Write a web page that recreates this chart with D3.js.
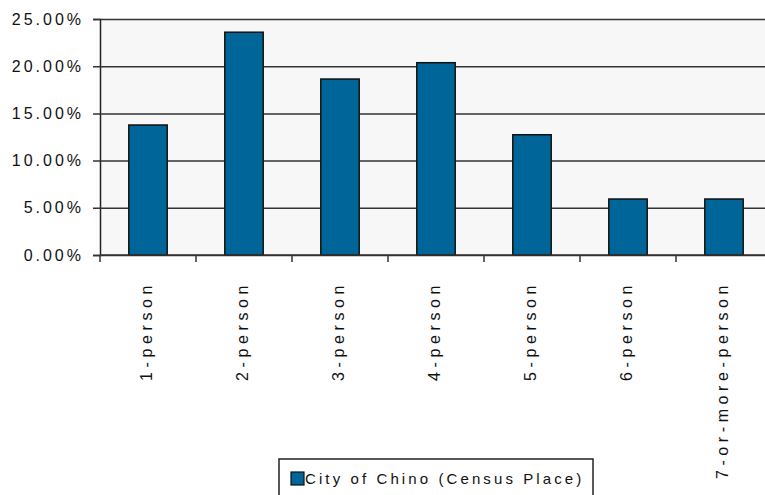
<!DOCTYPE html>
<html>
<head>
<meta charset="utf-8">
<script src="https://cdn.jsdelivr.net/npm/d3@7"></script>
<style>
  html, body { margin: 0; padding: 0; background: #fff; overflow: hidden; }
  svg { display: block; font-family: "Liberation Sans", Arial, sans-serif; }
</style>
</head>
<body>
<svg id="chart" width="765" height="495"></svg>
<script>
const categories = ['1-person', '2-person', '3-person', '4-person', '5-person', '6-person', '7-or-more-person'];
const shares = [13.77, 23.6, 18.64, 20.37, 12.74, 5.93, 5.93];
const yTicks = [0, 5, 10, 15, 20, 25];
const seriesName = 'City of Chino (Census Place)';

const svg = d3.select('#chart');
const plot = { left: 100, top: 19, right: 772, bottom: 255 };

const y = d3.scaleLinear().domain([0, 25]).range([plot.bottom, plot.top]);
const xBand = d3.scaleBand().domain(categories).range([plot.left, plot.right]);
const xBar = d3.scaleBand().domain(categories).range([plot.left, plot.right])
  .paddingInner(0.6).paddingOuter(0.3);

// plot background
svg.append('rect')
  .attr('x', plot.left).attr('y', plot.top)
  .attr('width', plot.right - plot.left).attr('height', plot.bottom - plot.top)
  .attr('fill', '#f7f7f7');

// gridlines + y ticks
const yAxis = d3.axisLeft(y).tickValues(yTicks).tickSize(7).tickPadding(9)
  .tickFormat((d) => d3.format('.2f')(d) + '%');
const gy = svg.append('g').attr('transform', `translate(${plot.left},0)`).call(yAxis);
gy.select('.domain').attr('stroke', '#222').attr('stroke-width', 1.5);
gy.selectAll('.tick line').attr('stroke', '#333').attr('stroke-width', 1.5)
  .attr('x2', plot.right - plot.left).attr('x1', -7);
gy.selectAll('.tick text')
  .attr('fill', '#111').attr('font-size', 16).style('letter-spacing', '3px')
  .attr('font-family', '"Liberation Sans", Arial, sans-serif');

// bars
svg.append('g').selectAll('rect')
  .data(categories)
  .join('rect')
  .attr('x', (d) => xBar(d))
  .attr('y', (d, i) => y(shares[i]))
  .attr('width', xBar.bandwidth())
  .attr('height', (d, i) => y(0) - y(shares[i]))
  .attr('fill', '#006699')
  .attr('stroke', '#111')
  .attr('stroke-width', 1.5);

// x axis line and ticks at band boundaries
const boundaries = categories.map((c) => xBand(c));
svg.append('line')
  .attr('x1', plot.left).attr('x2', plot.right)
  .attr('y1', plot.bottom).attr('y2', plot.bottom)
  .attr('stroke', '#333').attr('stroke-width', 1.5);
svg.append('g').selectAll('line')
  .data(boundaries.concat([plot.right]))
  .join('line')
  .attr('x1', (d) => d).attr('x2', (d) => d)
  .attr('y1', plot.bottom).attr('y2', plot.bottom + 7)
  .attr('stroke', '#333').attr('stroke-width', 1.5);

// rotated category labels
svg.append('g').selectAll('text')
  .data(categories)
  .join('text')
  .attr('transform', (d) => `translate(${xBand(d) + xBand.bandwidth() / 2 - 2},281) rotate(-90)`)
  .attr('text-anchor', 'end')
  .attr('dy', '0.36em')
  .attr('font-size', 16)
  .style('letter-spacing', '4.6px')
  .attr('fill', '#111')
  .text((d) => d);

// legend
const legend = svg.append('g');
legend.append('rect')
  .attr('x', 279).attr('y', 459).attr('width', 314).attr('height', 50)
  .attr('fill', '#fff').attr('stroke', '#222').attr('stroke-width', 1.5);
legend.append('rect')
  .attr('x', 291).attr('y', 472).attr('width', 13).attr('height', 13)
  .attr('fill', '#006699').attr('stroke', '#111').attr('stroke-width', 1.2);
legend.append('text')
  .attr('x', 305).attr('y', 484)
  .attr('font-size', 15)
  .style('letter-spacing', '3.1px')
  .attr('fill', '#111')
  .text(seriesName);
</script>
</body>
</html>
